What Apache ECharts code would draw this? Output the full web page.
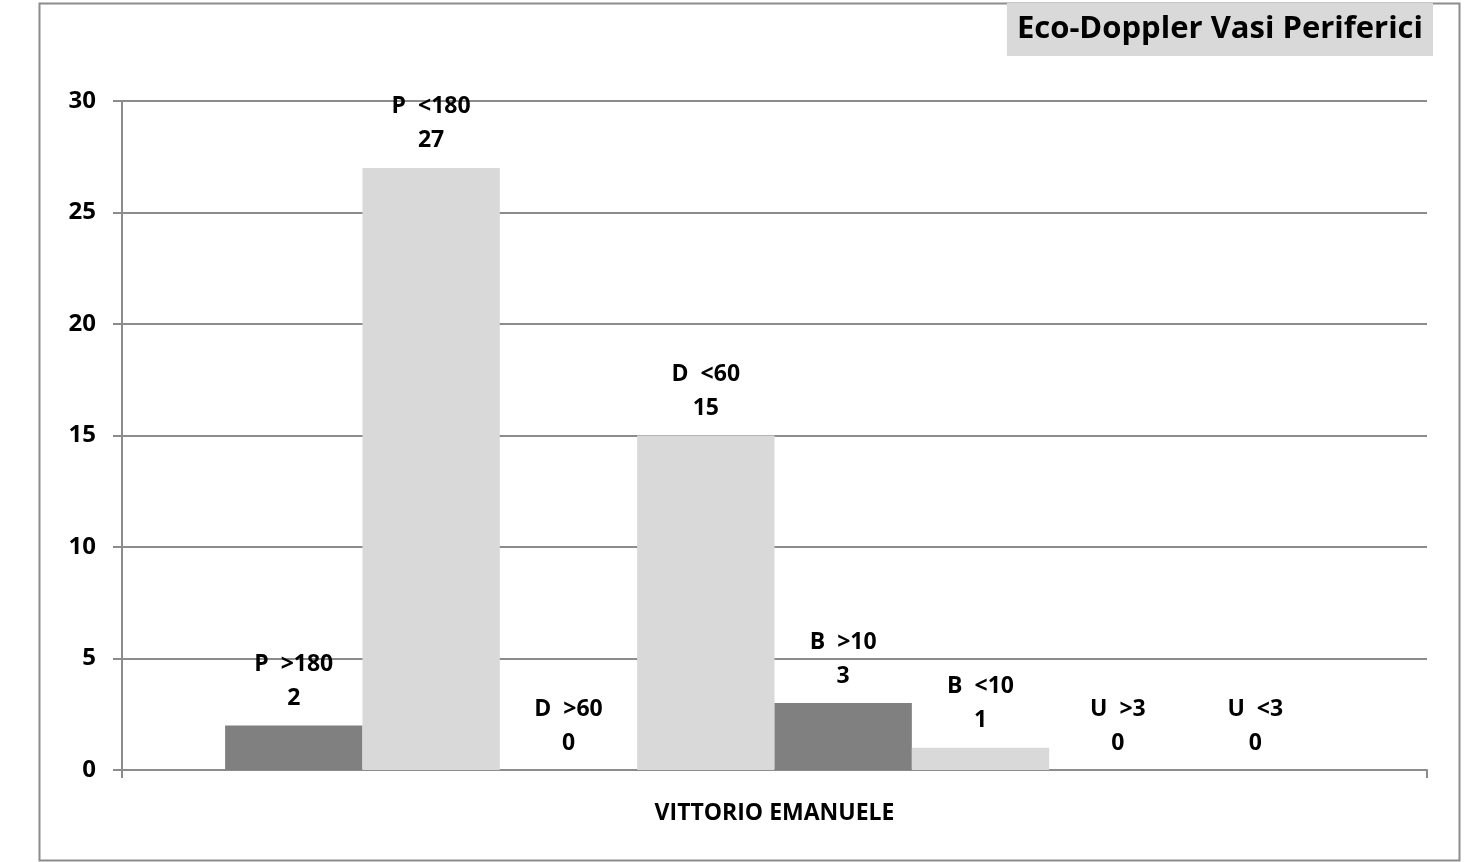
<!DOCTYPE html>
<html><head><meta charset="utf-8">
<script src="https://cdn.jsdelivr.net/npm/echarts@6/dist/echarts.min.js"></script>
<style>html,body{margin:0;padding:0;background:#fff}#c{width:1468px;height:862px}</style>
</head><body><div id="c"></div>
<script>
const categories = ['VITTORIO EMANUELE'];
const seriesNames = ['P  >180','P  <180','D  >60','D  <60','B  >10','B  <10','U  >3','U  <3'];
const seriesValues = [2, 27, 0, 15, 3, 1, 0, 0];
const seriesColors = ['#808080','#d9d9d9','#808080','#d9d9d9','#808080','#d9d9d9','#808080','#d9d9d9'];
const yTicks = [0, 5, 10, 15, 20, 25, 30];
const titleText = 'Eco-Doppler Vasi Periferici';

const FONT = '"Open Sans", "Noto Sans", sans-serif';
const chart = echarts.init(document.getElementById('c'), null, {renderer: 'canvas'});
chart.setOption({
  animation: false,
  backgroundColor: '#fff',
  title: {
    text: titleText, right: 35, top: 3,
    backgroundColor: '#d9d9d9',
    padding: [11, 10, 11, 10],
    textStyle: {fontFamily: FONT, fontWeight: 'bold', fontSize: 31, color: '#000'}
  },
  graphic: [{
    type: 'rect', left: 37, top: 1, shape: {width: 1420, height: 857},
    style: {fill: 'none', stroke: '#8c8c8c', lineWidth: 2}, silent: true, z: -1
  }],
  grid: {left: 122, right: 41, top: 101, bottom: 92},
  xAxis: {
    type: 'category', data: categories,
    axisLine: {lineStyle: {color: '#8c8c8c', width: 2}},
    axisTick: {show: true, length: 8, lineStyle: {color: '#8c8c8c', width: 2}},
    axisLabel: {margin: 32, fontFamily: FONT, fontWeight: 'bold', fontSize: 23, color: '#000'}
  },
  yAxis: {
    type: 'value', min: yTicks[0], max: yTicks[yTicks.length - 1], interval: 5,
    axisLine: {show: true, lineStyle: {color: '#8c8c8c', width: 2}},
    axisTick: {show: true, length: 9, lineStyle: {color: '#8c8c8c', width: 2}},
    splitLine: {lineStyle: {color: '#8c8c8c', width: 2}},
    axisLabel: {margin: 26, fontFamily: FONT, fontWeight: 'bold', fontSize: 24, color: '#000'}
  },
  series: seriesNames.map((n, i) => ({
    type: 'bar', name: n, data: [seriesValues[i]],
    barGap: '0%', barCategoryGap: '15.8%',
    itemStyle: {color: seriesColors[i]},
    label: {
      show: true, position: 'top', distance: 10,
      formatter: '{a}\n{c}',
      fontFamily: FONT, fontWeight: 'bold', fontSize: 23, lineHeight: 34, color: '#000'
    }
  }))
});
</script></body></html>
